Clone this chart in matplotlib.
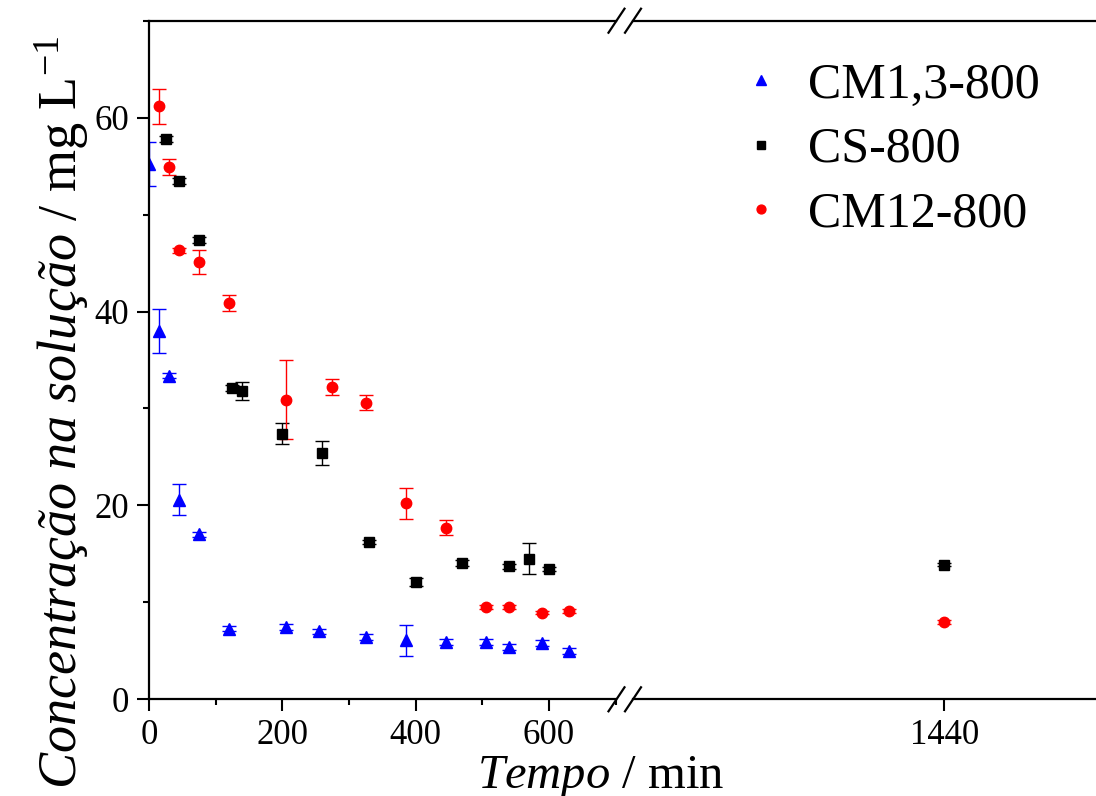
import numpy as np
import matplotlib
matplotlib.use("Agg")
import matplotlib.pyplot as plt
from matplotlib.ticker import MultipleLocator
from matplotlib.lines import Line2D

plt.rcParams['font.family'] = ['Liberation Serif', 'DejaVu Serif']
plt.rcParams['mathtext.fontset'] = 'custom'
plt.rcParams['mathtext.rm'] = 'Liberation Serif'
plt.rcParams['mathtext.it'] = 'Liberation Serif:italic'

# data
t_cm13 = [0, 15, 30, 45, 75, 120, 205, 255, 325, 385, 445, 505, 540, 590, 630]
c_cm13 = [55.2, 38.0, 33.4, 20.6, 17.0, 7.3, 7.5, 7.0, 6.4, 6.1, 5.9, 5.9, 5.4, 5.8, 5.0]
e_cm13 = [2.3, 2.25, 0.3, 1.6, 0.3, 0.3, 0.3, 0.3, 0.3, 1.6, 0.3, 0.3, 0.3, 0.3, 0.3]

t_cs = [25, 45, 75, 125, 140, 200, 260, 330, 400, 470, 540, 570, 600, 1440]
c_cs = [57.8, 53.5, 47.4, 32.1, 31.8, 27.4, 25.4, 16.2, 12.1, 14.05, 13.7, 14.5, 13.4, 13.9]
e_cs = [0.3, 0.3, 0.3, 0.3, 0.9, 1.05, 1.2, 0.2, 0.4, 0.3, 0.3, 1.6, 0.2, 0.2]

t_cm12 = [15, 30, 45, 75, 120, 205, 275, 325, 385, 445, 505, 540, 590, 630, 1440]
c_cm12 = [61.15, 54.9, 46.3, 45.1, 40.9, 30.9, 32.2, 30.6, 20.2, 17.7, 9.5, 9.5, 8.95, 9.15, 8.0]
e_cm12 = [1.85, 0.8, 0.3, 1.25, 0.8, 4.05, 0.8, 0.8, 1.6, 0.8, 0.2, 0.2, 0.2, 0.2, 0.2]

labels = ['CM1,3-800', 'CS-800', 'CM12-800']

W, H = 1096, 796
fig = plt.figure(figsize=(W/100, H/100), dpi=100)

def box(l, r, t, b):
    return [l/W, 1-b/H, (r-l)/W, (b-t)/H]

ax1 = fig.add_axes(box(149, 615.7, 20.7, 699.3))
ax2 = fig.add_axes(box(633, 1096, 20.7, 699.3))

series = [
    (t_cm13, c_cm13, e_cm13, 'blue', '^', 8.5),
    (t_cs, c_cs, e_cs, 'black', 's', 6.5),
    (t_cm12, c_cm12, e_cm12, 'red', 'o', 7.5),
]

for ax in (ax1, ax2):
    for t, c, e, col, mk, ms in series:
        ax.errorbar(t, c, yerr=e, fmt=mk, color=col, ms=ms, mec=col,
                    ecolor=col, elinewidth=1, capsize=5, capthick=1)
    ax.set_ylim(0, 70)
    ax.spines['right'].set_visible(False)
    for s in ax.spines.values():
        s.set_linewidth(1.6)
    ax.tick_params(which='major', direction='out', length=8.5, width=1.5,
                   labelsize=25, pad=6)
    ax.tick_params(which='minor', direction='out', length=4.5, width=1.5)

ax1.set_xlim(0, 700)
ax1.set_xticks([0, 200, 400, 600])
ax1.xaxis.set_minor_locator(MultipleLocator(100))
ax1.set_yticks([0, 20, 40, 60])
ax1.yaxis.set_minor_locator(MultipleLocator(10))

ax2.set_xlim(973, 1667.5)
ax2.set_xticks([1440])
ax2.spines['left'].set_visible(False)
ax2.tick_params(axis='y', which='both', left=False, labelleft=False)

# break marks
for yb in (20.7, 699.3):
    for xb in (616.5, 633):
        fig.add_artist(Line2D([(xb-8)/W, (xb+8)/W], [1-(yb+12)/H, 1-(yb-12)/H],
                              color='black', lw=1.6))

fig.text(601/W, 1-788/H, r'$\mathit{Tempo}$ / min', fontsize=35,
         ha='center', va='baseline')
fig.text(77/W, 1-412/H, r'$\mathit{Concentração\ na\ solução}$ / mg L$^{-1}$',
         fontsize=39, rotation=90, rotation_mode='anchor',
         ha='center', va='baseline')

handles = [Line2D([], [], ls='none', marker=mk, color=col, ms=ms*0.85)
           for t, c, e, col, mk, ms in series]
fig.legend(handles, labels, loc='upper left', bbox_to_anchor=(736/W, 1-62/H),
           frameon=False, fontsize=36, handlelength=1.0, handletextpad=0.45,
           labelspacing=0.36, borderpad=0, borderaxespad=0)

fig.savefig('out.png', dpi=100)
